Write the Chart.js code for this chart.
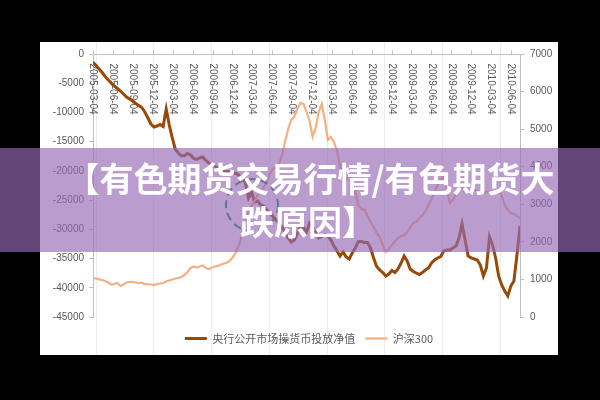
<!DOCTYPE html>
<html>
<head>
<meta charset="utf-8">
<script src="https://cdn.jsdelivr.net/npm/chart.js@4.4.1/dist/chart.umd.min.js"></script>
<style>
  html, body { margin: 0; padding: 0; background: #000; }
  #wrap { width: 600px; height: 400px; }
</style>
</head>
<body>
<div id="wrap"><canvas id="chart" width="600" height="400"></canvas></div>
<script>
// ===== DATA =====
const tickLabels = [
  "2005-03-04", "2005-06-04", "2005-09-04", "2005-12-04",
  "2006-03-04", "2006-06-04", "2006-09-04", "2006-12-04",
  "2007-03-04", "2007-06-04", "2007-09-04", "2007-12-04",
  "2008-03-04", "2008-06-04", "2008-09-04", "2008-12-04",
  "2009-03-04", "2009-06-04", "2009-09-04", "2009-12-04",
  "2010-03-04", "2010-06-04",
];
// one value every two weeks from 2005-03-04
const stepDays = 14;

// 央行公开市场操货币投放净值 (left axis)
const pbocNet = [
  -1400, -1970, -2570, -3170, -3850, -4450, -4960, -5480, -5900, -6330,
  -6840, -7360, -7700, -8040, -8470, -8810, -9150, -9920, -10950, -11980,
  -12490, -12320, -12060, -12400, -9410, -12150, -14370, -16340, -16940, -17450,
  -17370, -17020, -17280, -17880, -18050, -17790, -17620, -18220, -18650, -18990,
  -19250, -19500, -19680, -19930, -20100, -20280, -20360, -20450, -20790, -21050,
  -22070, -24640, -23610, -25320, -25150, -25840, -26010, -26690, -27200, -27800,
  -28400, -28920, -29600, -30630, -31480, -32170, -31830, -30800, -29430, -29690,
  -30460, -28920, -29600, -30460, -31480, -31230, -30890, -31140, -31830, -32850,
  -33710, -34560, -33880, -34730, -35070, -34050, -33190, -32080, -32080, -32250,
  -32250, -33190, -34900, -36360, -36960, -37380, -37980, -37640, -37040, -37380,
  -36790, -35760, -34560, -35420, -36790, -37210, -37470, -37730, -37380, -36960,
  -36620, -35760, -35250, -34900, -34650, -33710, -33540, -33540, -33190, -32850,
  -31480, -29090, -31830, -34560, -34900, -35070, -35250, -36100, -37980, -36620,
  -31310, -32680, -34900, -37980, -39520, -40550, -41400, -39700, -38830, -34390,
  -29430,
];

// 沪深300 (right axis)
const hs300 = [
  1030, 1025, 1000, 985, 958, 918, 865, 878, 905, 825,
  865, 918, 932, 932, 918, 905, 905, 878, 878, 865,
  852, 878, 892, 905, 945, 972, 998, 1025, 1038, 1065,
  1118, 1198, 1304, 1344, 1318, 1344, 1371, 1304, 1278, 1318,
  1344, 1358, 1398, 1424, 1451, 1504, 1610, 1744, 1943, 2236,
  2582, 2822, 2955, 3088, 3248, 3328, 3461, 3594, 3807, 3953,
  3966, 4073, 4312, 4685, 5005, 5244, 5324, 5537, 5697, 5670,
  5457, 5218, 4792, 5031, 5457, 5670, 5244, 4712, 4792, 4658,
  4419, 4020, 3700, 3647, 3780, 3647, 3328, 2981, 2875, 2848,
  2689, 2529, 2396, 2236, 2130, 1917, 1730, 1810, 1917, 2023,
  2090, 2156, 2183, 2249, 2396, 2502, 2529, 2635, 2702, 2822,
  2981, 3154, 3328, 3514, 3647, 3753, 3381, 3035, 3115, 3274,
  3354, 3434, 3487, 3514, 3434, 3381, 3354, 3328, 3301, 3328,
  3328, 3301, 3328, 3381, 3221, 2981, 2848, 2768, 2742, 2689,
  2635,
];

const titleLines = ["【有色期货交易行情/有色期货大", "跌原因】"];

const dayOf = (s) => (Date.parse(s) - Date.parse(tickLabels[0])) / 864e5;
const toPoints = (arr) => arr.map((v, i) => ({ x: i * stepDays, y: v }));

// ===== PLUGINS =====
// black frame + white sheet with faint column lines
const sheetBg = {
  id: "sheetBg",
  beforeDraw(chart) {
    const ctx = chart.ctx;
    ctx.save();
    ctx.fillStyle = "#000";
    ctx.fillRect(0, 0, 600, 400);
    ctx.fillStyle = "#fff";
    ctx.fillRect(40, 42, 518, 313);
    ctx.strokeStyle = "#ececec";
    ctx.lineWidth = 1;
    ctx.beginPath();
    [96, 153, 211, 269, 327, 384, 442, 500].forEach((x) => {
      ctx.moveTo(x + 0.5, 42);
      ctx.lineTo(x + 0.5, 355);
    });
    ctx.stroke();
    ctx.restore();
  },
};

// date axis sits on the 0 line at the top, labels rotated downwards
const dateAxis = {
  id: "dateAxis",
  beforeDatasetsDraw(chart) {
    const { ctx, chartArea, scales } = chart;
    const y0 = Math.round(scales.y.getPixelForValue(0)) + 0.5;
    ctx.save();
    ctx.strokeStyle = "#bfbfbf";
    ctx.lineWidth = 1;
    ctx.beginPath();
    ctx.moveTo(chartArea.left, y0);
    ctx.lineTo(chartArea.right, y0);
    tickLabels.forEach((lbl) => {
      const x = Math.round(scales.x.getPixelForValue(dayOf(lbl))) + 0.5;
      ctx.moveTo(x, y0);
      ctx.lineTo(x, y0 - 4);
    });
    ctx.stroke();
    ctx.fillStyle = "#595959";
    ctx.font = '10px "Liberation Sans"';
    ctx.textAlign = "left";
    ctx.textBaseline = "middle";
    tickLabels.forEach((lbl) => {
      const x = scales.x.getPixelForValue(dayOf(lbl));
      ctx.save();
      ctx.translate(x, y0 + 9);
      ctx.rotate(Math.PI / 2);
      ctx.fillText(lbl, 0, 0);
      ctx.restore();
    });
    ctx.restore();
  },
};

// purple banner with the title on top of everything
const banner = {
  id: "banner",
  afterDraw(chart) {
    const ctx = chart.ctx;
    ctx.save();
    ctx.fillStyle = "rgba(150,106,180,0.66)";
    ctx.fillRect(0, 148, 600, 104);

    ctx.strokeStyle = "rgba(80,112,135,0.85)";
    ctx.lineWidth = 2;
    ctx.setLineDash([8, 5]);
    ctx.beginPath();
    ctx.arc(252, 205, 26, 0, Math.PI * 2);
    ctx.stroke();
    ctx.setLineDash([]);

    ctx.fillStyle = "#fff";
    ctx.font = 'bold 34px "Noto Sans CJK SC"';
    ctx.textAlign = "center";
    ctx.textBaseline = "middle";
    ctx.fillText(titleLines[0], 310, 179);
    ctx.fillText(titleLines[1], 308, 222);
    ctx.restore();
  },
};

// ===== CHART =====
const tickFont = { family: "Liberation Sans", size: 10 };

new Chart(document.getElementById("chart"), {
  type: "line",
  data: {
    datasets: [
      {
        label: "央行公开市场操货币投放净值",
        data: toPoints(pbocNet),
        yAxisID: "y",
        borderColor: "#984807",
        backgroundColor: "#984807",
        borderWidth: 3,
        pointRadius: 0,
        order: 2,
      },
      {
        label: "沪深300",
        data: toPoints(hs300),
        yAxisID: "y1",
        borderColor: "#f4b183",
        backgroundColor: "#f4b183",
        borderWidth: 2.25,
        pointRadius: 0,
        order: 1,
      },
    ],
  },
  options: {
    responsive: false,
    animation: false,
    devicePixelRatio: 1,
    events: [],
    layout: { padding: { left: 18, right: 0, top: 54, bottom: 46 } },
    scales: {
      x: {
        type: "linear",
        display: false,
        min: 0,
        max: (pbocNet.length - 1) * stepDays,
      },
      y: {
        position: "left",
        min: -45000,
        max: 0,
        afterFit: (s) => { s.width = 75; },
        ticks: {
          stepSize: 5000,
          padding: 5,
          color: "#595959",
          font: tickFont,
          callback: (v) => String(v),
        },
        grid: { drawOnChartArea: false, tickLength: 4, color: "#bfbfbf" },
        border: { color: "#bfbfbf" },
      },
      y1: {
        position: "right",
        min: 0,
        max: 7000,
        afterFit: (s) => { s.width = 80; },
        ticks: {
          stepSize: 1000,
          padding: 6,
          color: "#595959",
          font: tickFont,
          callback: (v) => String(v),
        },
        grid: { drawOnChartArea: false, tickLength: 4, color: "#bfbfbf" },
        border: { color: "#bfbfbf" },
      },
    },
    plugins: {
      tooltip: { enabled: false },
      legend: {
        position: "bottom",
        title: { display: true, text: "", font: { size: 5 }, padding: 0 },
        labels: {
          usePointStyle: true,
          pointStyle: "line",
          pointStyleWidth: 22,
          padding: 10,
          color: "#595959",
          font: { family: "Noto Sans CJK SC", size: 11 },
          sort: (a, b) => a.datasetIndex - b.datasetIndex,
        },
      },
    },
  },
  plugins: [sheetBg, dateAxis, banner],
});
</script>
</body>
</html>
